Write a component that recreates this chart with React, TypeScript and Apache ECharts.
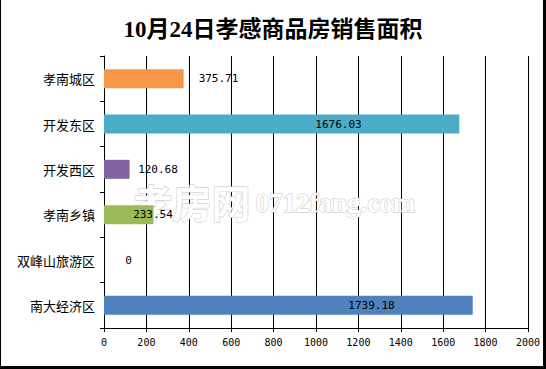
import React, { useEffect, useRef } from "react";
import * as echarts from "echarts";

const titleText = "10月24日孝感商品房销售面积";
const categories = ["孝南城区", "开发东区", "开发西区", "孝南乡镇", "双峰山旅游区", "南大经济区"];
const values = [375.71, 1676.03, 120.68, 233.54, 0, 1739.18];
const barColors = ["#F79646", "#4BACC6", "#8064A2", "#9BBB59", "#4F81BD", "#4F81BD"];
const labelOffsets = [114.5, 234.5, 54, 49, 24.5, 267.5];
const xMin = 0;
const xMax = 2000;
const xInterval = 200;

export default function App() {
  const ref = useRef<HTMLDivElement>(null);
  useEffect(() => {
    document.body.style.margin = "0";
    const chart = echarts.init(ref.current!, null, { renderer: "svg" });
    chart.setOption({
      animation: false,
      backgroundColor: "#ffffff",
      title: {
        text: titleText,
        left: "center",
        top: 13,
        textStyle: {
          fontFamily: "'Liberation Serif', 'Noto Sans CJK SC'",
          fontWeight: "bold",
          fontSize: 23,
          color: "#000",
        },
      },
      grid: { left: 104, right: 18, top: 56, bottom: 41, containLabel: false },
      xAxis: {
        type: "value",
        min: xMin,
        max: xMax,
        interval: xInterval,
        axisLine: { show: true, lineStyle: { color: "#000", width: 1 } },
        axisTick: { show: true, length: 4, lineStyle: { color: "#000" } },
        splitLine: { show: true, lineStyle: { color: "#000", width: 1 } },
        axisLabel: {
          margin: 9,
          formatter: (v: number) => String(v),
          fontFamily: "'DejaVu Sans Mono'",
          fontSize: 10,
          color: "#000",
        },
      },
      yAxis: {
        type: "category",
        data: categories,
        inverse: true,
        axisLine: { show: true, lineStyle: { color: "#000", width: 1 } },
        axisTick: { show: true, length: 4, lineStyle: { color: "#000" } },
        splitLine: { show: false },
        axisLabel: {
          margin: 9,
          fontFamily: "'Noto Sans CJK SC'",
          fontSize: 13,
          color: "#000",
        },
      },
      graphic: [
        {
          type: "text",
          z: 1,
          left: 133,
          top: 181,
          style: {
            text: "孝房网",
            fontFamily: "'Noto Sans CJK SC'",
            fontSize: 39,
            fontWeight: "bold",
            fill: "#ffffff",
            stroke: "#c4c4c4",
            lineWidth: 1,
          },
        },
        {
          type: "text",
          z: 1,
          left: 255,
          top: 189,
          style: {
            text: "0712fang.com",
            fontFamily: "'Liberation Serif'",
            fontSize: 27,
            fontWeight: "bold",
            fill: "#ffffff",
            stroke: "#c4c4c4",
            lineWidth: 1,
          },
        },
      ],
      series: [
        {
          type: "bar",
          barWidth: 19,
          z: 2,
          data: values.map((v, i) => ({
            value: v,
            itemStyle: { color: barColors[i] },
            label: {
              show: true,
              position: [labelOffsets[i], "50%"],
              align: "center",
              verticalAlign: "middle",
              formatter: String(v),
              fontFamily: "'DejaVu Sans Mono'",
              fontSize: 11,
              color: "#000",
            },
          })),
        },
      ],
    });
    return () => chart.dispose();
  }, []);
  return (
    <div style={{ position: "fixed", left: 0, top: 0, width: 546, height: 369 }}>
      <div ref={ref} style={{ width: 546, height: 369 }} />
      <div
        style={{
          position: "absolute",
          left: 0,
          top: 0,
          width: 546,
          height: 369,
          boxSizing: "border-box",
          borderLeft: "1px solid #000",
          borderRight: "3px solid #000",
          borderBottom: "3px solid #000",
          pointerEvents: "none",
        }}
      />
    </div>
  );
}
